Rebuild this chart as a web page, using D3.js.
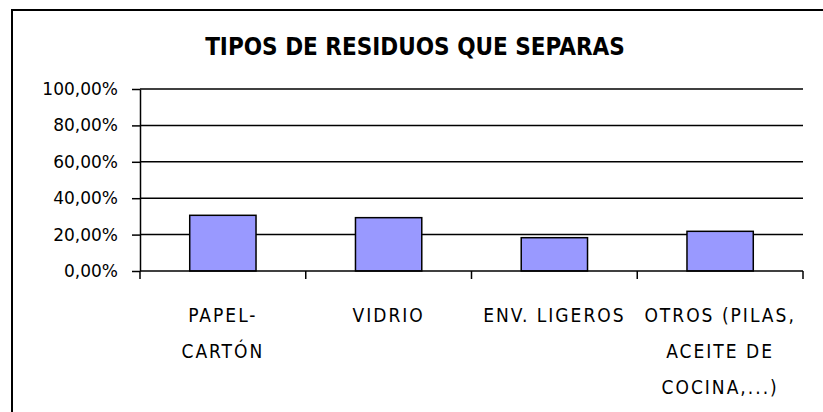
<!DOCTYPE html>
<html lang="es">
<head>
<meta charset="UTF-8">
<title>Tipos de residuos</title>
<style>
  body { margin: 0; background: #fff; }
  .title { font-family: "DejaVu Sans Condensed", "DejaVu Sans", sans-serif; font-stretch: condensed; font-weight: bold; font-size: 24px; }
  .yax text { font-family: "DejaVu Sans", sans-serif; font-size: 17px; fill: #000; }
  .cat { font-family: "DejaVu Sans Condensed", "DejaVu Sans", sans-serif; font-stretch: condensed; font-size: 19px; letter-spacing: 2px; }
</style>
</head>
<body>
<script src="https://d3js.org/d3.v7.min.js"></script>
<script>
const categories = [["PAPEL-", "CARTÓN"], ["VIDRIO"], ["ENV. LIGEROS"], ["OTROS (PILAS,", "ACEITE DE", "COCINA,...)"]];
const values = [0.306, 0.293, 0.183, 0.218];
const yTicks = [0, 0.2, 0.4, 0.6, 0.8, 1];

const width = 823, height = 412;
const margin = {top: 89, right: 20, bottom: 141, left: 140};

const svg = d3.select("body").append("svg")
  .attr("width", width).attr("height", height);

// outer frame
svg.append("rect")
  .attr("x", 12).attr("y", 10)
  .attr("width", 830).attr("height", 420)
  .attr("fill", "none").attr("stroke", "#000").attr("stroke-width", 2);

svg.append("text").attr("class", "title")
  .attr("x", 415).attr("y", 55)
  .attr("text-anchor", "middle")
  .text("TIPOS DE RESIDUOS QUE SEPARAS");

const x = d3.scaleBand()
  .domain(d3.range(categories.length))
  .range([margin.left, 803])
  .paddingInner(0.6).paddingOuter(0.3);

const y = d3.scaleLinear()
  .domain([0, 1])
  .range([271, margin.top]);

const fmt = d => d3.format(".2f")(d * 100).replace(".", ",") + "%";

// gridlines
svg.append("g")
  .selectAll("line")
  .data(yTicks.slice(1))
  .join("line")
  .attr("x1", margin.left).attr("x2", 803)
  .attr("y1", d => y(d)).attr("y2", d => y(d))
  .attr("stroke", "#000").attr("stroke-width", 1.5);

// y axis
const yAxis = svg.append("g").attr("class", "yax")
  .attr("transform", `translate(${margin.left},0)`)
  .call(d3.axisLeft(y).tickValues(yTicks).tickFormat(fmt).tickSize(8).tickSizeOuter(0).tickPadding(14));
yAxis.selectAll("line, path").attr("stroke", "#000").attr("stroke-width", 1.5);

// bars
svg.append("g")
  .selectAll("rect")
  .data(values)
  .join("rect")
  .attr("x", (d, i) => x(i))
  .attr("y", d => y(d))
  .attr("width", x.bandwidth())
  .attr("height", d => y(0) - y(d))
  .attr("fill", "#9999ff")
  .attr("stroke", "#000").attr("stroke-width", 1.5);

// x axis line + ticks between categories
const xEdges = d3.range(categories.length + 1).map(i => margin.left + i * (803 - margin.left) / categories.length);
svg.append("line")
  .attr("x1", margin.left).attr("x2", 803)
  .attr("y1", y(0)).attr("y2", y(0))
  .attr("stroke", "#000").attr("stroke-width", 1.5);
svg.append("g")
  .selectAll("line")
  .data(xEdges)
  .join("line")
  .attr("x1", d => d).attr("x2", d => d)
  .attr("y1", y(0)).attr("y2", y(0) + 8)
  .attr("stroke", "#000").attr("stroke-width", 1.5);

// category labels
svg.append("g")
  .selectAll("text")
  .data(categories)
  .join("text")
  .attr("class", "cat")
  .attr("text-anchor", "middle")
  .attr("x", (d, i) => x(i) + x.bandwidth() / 2)
  .attr("y", 322)
  .selectAll("tspan")
  .data(d => d)
  .join("tspan")
  .attr("x", function() { return this.parentNode.getAttribute("x"); })
  .attr("dy", (d, i) => i === 0 ? 0 : 36)
  .text(d => d);
</script>
</body>
</html>
